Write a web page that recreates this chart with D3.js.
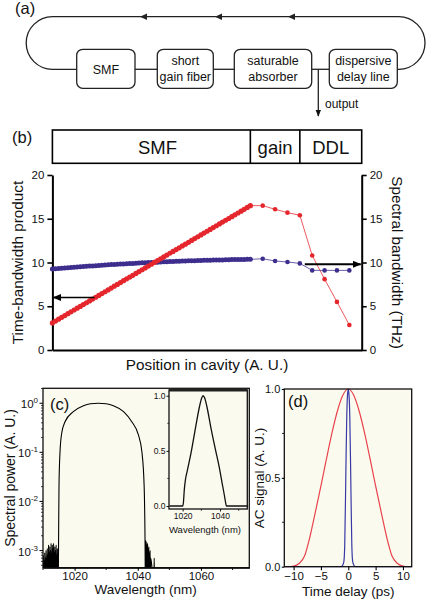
<!DOCTYPE html>
<html><head><meta charset="utf-8">
<script src="https://cdn.jsdelivr.net/npm/d3@7"></script>
<style>body{margin:0;background:#fff}svg{display:block}</style>
</head><body>
<svg id="fig" width="426" height="601"></svg>
<script>
// ---------------- DATA ----------------
// (a) cavity schematic
const cavityBoxes = [["SMF"], ["short", "gain fiber"], ["saturable", "absorber"], ["dispersive", "delay line"]];
const outputLabel = "output";
// (b) position in cavity
const segmentLabels = ["SMF", "gain", "DDL"];
const segmentBounds = [0, 16, 20, 25];
const densePosStep = 0.25;
const tbpDense = [3.10,3.31,3.52,3.73,3.94,4.15,4.36,4.57,4.78,4.98,5.19,5.40,5.61,5.82,6.03,6.24,6.45,6.66,6.87,7.08,7.29,7.50,7.71,7.92,8.13,8.33,8.54,8.75,8.96,9.17,9.38,9.59,9.80,10.01,10.22,10.43,10.64,10.85,11.06,11.27,11.48,11.68,11.89,12.10,12.31,12.52,12.73,12.94,13.15,13.36,13.57,13.78,13.99,14.20,14.41,14.62,14.83,15.03,15.24,15.45,15.66,15.87,16.08,16.29,16.50];
const bwDense = [9.25,9.28,9.31,9.34,9.37,9.40,9.42,9.45,9.48,9.51,9.53,9.56,9.59,9.61,9.64,9.66,9.69,9.71,9.73,9.76,9.78,9.80,9.82,9.84,9.86,9.88,9.90,9.92,9.94,9.96,9.97,9.99,10.01,10.03,10.04,10.06,10.08,10.09,10.11,10.12,10.14,10.15,10.16,10.18,10.19,10.20,10.21,10.23,10.24,10.25,10.26,10.27,10.28,10.29,10.30,10.30,10.31,10.32,10.33,10.33,10.34,10.35,10.35,10.36,10.36];
const sparsePos = [17, 18, 19, 20, 21, 22, 23, 24];
const tbpSparse = [16.5, 16.08, 15.7, 15.4, 10.8, 8.1, 5.5, 2.86];
const bwSparse = [10.43, 10.17, 10.06, 9.9, 9.1, 9.1, 9.1, 9.1];
const bTicks = [0, 5, 10, 15, 20];
// (c) spectrum
const noiseLeftWl = [1010.05,1010.15,1010.25,1010.35,1010.45,1010.55,1010.65,1010.75,1010.85,1010.95,1011.05,1011.15,1011.25,1011.35,1011.45,1011.55,1011.65,1011.75,1011.85,1011.95,1012.05,1012.15,1012.25,1012.35,1012.45,1012.55,1012.65,1012.75,1012.85,1012.95,1013.05,1013.15,1013.25,1013.35,1013.45,1013.55,1013.65,1013.75,1013.85,1013.95,1014.05,1014.15,1014.25,1014.35,1014.45,1014.55,1014.65,1014.75];
const noiseLeftP = [3e-4,8e-4,3e-4,6e-4,2e-4,9e-4,3e-4,7e-4,2e-4,1.0e-3,3e-4,6e-4,2e-4,1.1e-3,3e-4,8e-4,2e-4,1.3e-3,4e-4,9e-4,2e-4,1.2e-3,3e-4,1.0e-3,2e-4,1.4e-3,3e-4,8e-4,2e-4,1.3e-3,4e-4,1.1e-3,2e-4,1.4e-3,3e-4,9e-4,2e-4,1.2e-3,3e-4,1.0e-3,2e-4,1.3e-3,4e-4,8e-4,2e-4,1.1e-3,3e-4,7e-4];
const domeWl = [1014.85,1014.95,1015.07,1015.39,1015.92,1016.97,1019.6,1022.8,1025.0,1027.5,1030.0,1032.3,1035.5,1038.1,1040.2,1041.3,1042.0,1042.3];
const domeP = [3e-4,2.5e-3,0.022,0.103,0.245,0.42,0.675,0.89,0.975,1.0,0.975,0.89,0.675,0.42,0.226,0.103,0.022,1.5e-3];
const noiseRightWl = [1042.4,1042.5,1042.6,1042.7,1042.8,1042.9,1043.0,1043.1,1043.2,1043.3,1043.4,1043.5,1043.6,1043.7,1043.8,1043.9,1044.0,1044.1,1045.1,1045.2,1045.3,1075];
const noiseRightP = [2e-4,1.6e-3,3e-4,1.5e-3,2e-4,1.3e-3,3e-4,1.4e-3,2e-4,1.1e-3,3e-4,1.2e-3,2e-4,9e-4,3e-4,1.0e-3,2e-4,7e-4,2e-4,7e-4,2e-4,2e-4];
const cXMajor = [1020, 1040, 1060];
const cXMinor = [1010, 1030, 1050, 1070];
const cYMajor = [1, 0.1, 0.01, 0.001];
const cYExp = ["0", "-1", "-2", "-3"];
// (c) inset, linear
const insetWl = [1013,1020,1020.4,1020.9,1021.5,1022.5,1024.7,1027,1029,1030.2,1030.9,1031.8,1033,1035,1037.7,1039.5,1041,1042.3,1043,1043.4,1055];
const insetP = [0,0,0.03,0.15,0.24,0.32,0.5,0.72,0.9,0.98,1.0,0.98,0.9,0.72,0.5,0.36,0.22,0.1,0.03,0,0];
const insetXTicks = [1020, 1040];
const insetYTicks = [0, 0.5, 1];
// (d) autocorrelation
const acT = [-11.7,-11,-10,-9,-8,-7,-6,-5,-4,-3,-2,-1,0,1,2,3,4,5,6,7,8,9,10,11,11.6];
const acRed = [0,0,0.003,0.018,0.06,0.17,0.31,0.455,0.605,0.75,0.875,0.965,1.0,0.965,0.875,0.75,0.605,0.455,0.31,0.17,0.06,0.018,0.003,0,0];
const acBlueT = [-11.7,-1.3,-1.0,-0.8,-0.65,-0.5,-0.4,-0.28,-0.15,0,0.15,0.28,0.4,0.5,0.65,0.8,1.0,1.3,11.6];
const acBlue = [0,0,0.01,0.03,0.12,0.4,0.62,0.84,0.96,1.0,0.96,0.84,0.62,0.4,0.12,0.03,0.01,0,0];
const dXTicks = [-10, -5, 0, 5, 10];
const dYMajor = [0, 0.5, 1];
const dYMinor = [0.25, 0.75];

// ---------------- STYLE ----------------
const FONT = '"Liberation Sans", Arial, Helvetica, sans-serif';
const RED = "#e5262d", BLUE = "#3d2e8e", CREAM = "#fbfaee";
const svg = d3.select("#fig");
const defs = svg.append("defs");
defs.append("marker").attr("id", "ah").attr("viewBox", "0 0 10 8").attr("refX", 9).attr("refY", 4)
  .attr("markerWidth", 7).attr("markerHeight", 6).attr("markerUnits", "userSpaceOnUse").attr("orient", "auto")
  .append("path").attr("d", "M0,0 L10,4 L0,8 z").attr("fill", "#111");
defs.append("marker").attr("id", "ahb").attr("viewBox", "0 0 10 8").attr("refX", 9).attr("refY", 4)
  .attr("markerWidth", 9).attr("markerHeight", 7).attr("markerUnits", "userSpaceOnUse").attr("orient", "auto")
  .append("path").attr("d", "M0,0 L10,4 L0,8 z").attr("fill", "#000");

function label(g, x, y, s, size, anchor = "middle", rot = 0) {
  const t = g.append("text").attr("x", x).attr("y", y).attr("font-family", FONT).attr("font-size", size)
    .attr("text-anchor", anchor).attr("fill", "#111").text(s);
  if (rot) t.attr("transform", `rotate(${rot},${x},${y})`);
  return t;
}
function styleAxis(g, fs, dw, tw) {
  g.attr("font-family", FONT).attr("font-size", fs);
  g.select(".domain").attr("stroke-width", dw).attr("stroke", "#000");
  g.selectAll(".tick line").attr("stroke-width", tw).attr("stroke", "#000");
  g.selectAll(".tick text").attr("fill", "#111");
}

// ---------------- (a) ----------------
const ga = svg.append("g");
label(ga, 15, 14, "(a)", 16.5, "start");
const aTop = 16.7, aMid = 69.3, aR = (aMid - aTop) / 2;
const boxX = [[76.7, 135], [157.3, 213.3], [234.3, 311.7], [329.3, 397.3]];
const lx = 52.5, rx = 398.7;
ga.append("path").attr("fill", "none").attr("stroke", "#222").attr("stroke-width", 1.3)
  .attr("d", `M${boxX[0][0]},${aMid} H${lx} A${aR},${aR} 0 0 1 ${lx},${aTop} H${rx} A${aR},${aR} 0 0 1 ${rx},${aMid} H${boxX[3][1]}`);
for (let i = 0; i < 3; i++)
  ga.append("line").attr("x1", boxX[i][1]).attr("x2", boxX[i + 1][0]).attr("y1", aMid).attr("y2", aMid)
    .attr("stroke", "#222").attr("stroke-width", 1.3);
[140, 215, 288].forEach(x => ga.append("path").attr("d", `M${x},${aTop} l7,-3.2 v6.4 z`).attr("fill", "#222"));
cavityBoxes.forEach((lines, i) => {
  const [x0, x1] = boxX[i];
  ga.append("rect").attr("x", x0).attr("y", 49.3).attr("width", x1 - x0).attr("height", 39).attr("rx", 6)
    .attr("fill", "#fff").attr("stroke", "#222").attr("stroke-width", 1.3);
  const cx = (x0 + x1) / 2;
  if (lines.length === 1) label(ga, cx, 73.5, lines[0], 12.5);
  else { label(ga, cx, 65, lines[0], 12.5); label(ga, cx, 81, lines[1], 12.5); }
});
ga.append("line").attr("x1", 318.3).attr("x2", 318.3).attr("y1", aMid).attr("y2", 116)
  .attr("stroke", "#222").attr("stroke-width", 1.3).attr("marker-end", "url(#ah)");
label(ga, 325, 108, outputLabel, 12, "start");

// ---------------- (b) ----------------
const gb = svg.append("g");
label(gb, 12, 143, "(b)", 16.5, "start");
const xb = d3.scaleLinear([0, 25], [52.4, 361.7]);
const yL = d3.scaleLinear([0, 20], [350, 175]);
const yR = d3.scaleLinear([0, 20], [350, 175]);
gb.append("rect").attr("x", xb(0)).attr("y", 130).attr("width", xb(25) - xb(0)).attr("height", 33.3)
  .attr("fill", "#fff").attr("stroke", "#000").attr("stroke-width", 1.6);
[segmentBounds[1], segmentBounds[2]].forEach(p => gb.append("line").attr("x1", xb(p)).attr("x2", xb(p))
  .attr("y1", 130).attr("y2", 163.3).attr("stroke", "#000").attr("stroke-width", 1.6));
const segCenters = [8.5, 18, 22.5];
segmentLabels.forEach((s, i) => label(gb, xb(segCenters[i]), 153.5, s, 18.5));
const axL = gb.append("g").attr("transform", `translate(${xb(0)},0)`)
  .call(d3.axisLeft(yL).tickValues(bTicks).tickSize(5).tickSizeOuter(0).tickPadding(3));
styleAxis(axL, 11.5, 2, 1.6);
const axR = gb.append("g").attr("transform", `translate(${xb(25)},0)`)
  .call(d3.axisRight(yR).tickValues(bTicks).tickSize(5).tickSizeOuter(0).tickPadding(3));
styleAxis(axR, 11.5, 2, 1.6);
const axB = gb.append("g").attr("transform", `translate(0,${yL(0)})`)
  .call(d3.axisBottom(xb).tickValues([]).tickSizeOuter(0));
styleAxis(axB, 11, 2, 1);
label(gb, 22.5, (yL(0) + yL(20)) / 2, "Time-bandwidth product", 15.3, "middle", -90);
label(gb, 392, (yL(0) + yL(20)) / 2, "Spectral bandwidth (THz)", 15.3, "middle", 90);
label(gb, (xb(0) + xb(25)) / 2, 369.5, "Position in cavity (A. U.)", 15.3);
const lineB = (ys) => d3.line().x(d => xb(d[0])).y(d => ys(d[1]));
const redSp = [[(tbpDense.length - 1) * densePosStep, tbpDense[tbpDense.length - 1]], ...sparsePos.map((p, i) => [p, tbpSparse[i]])];
const blueSp = [[(bwDense.length - 1) * densePosStep, bwDense[bwDense.length - 1]], ...sparsePos.map((p, i) => [p, bwSparse[i]])];
gb.append("path").attr("d", lineB(yL)(redSp)).attr("fill", "none").attr("stroke", RED).attr("stroke-width", 0.9).attr("opacity", 0.85);
gb.append("path").attr("d", lineB(yR)(blueSp)).attr("fill", "none").attr("stroke", BLUE).attr("stroke-width", 0.9).attr("opacity", 0.85);
gb.append("g").selectAll("circle").data(bwDense).join("circle")
  .attr("cx", (d, i) => xb(i * densePosStep)).attr("cy", d => yR(d)).attr("r", 2.5).attr("fill", BLUE);
gb.append("g").selectAll("circle").data(tbpDense).join("circle")
  .attr("cx", (d, i) => xb(i * densePosStep)).attr("cy", d => yL(d)).attr("r", 2.6).attr("fill", RED);
gb.append("g").selectAll("circle").data(bwSparse).join("circle")
  .attr("cx", (d, i) => xb(sparsePos[i])).attr("cy", d => yR(d)).attr("r", 2.3).attr("fill", BLUE);
gb.append("g").selectAll("circle").data(tbpSparse).join("circle")
  .attr("cx", (d, i) => xb(sparsePos[i])).attr("cy", d => yL(d)).attr("r", 2.3).attr("fill", RED);
gb.append("line").attr("x1", xb(3.4)).attr("x2", xb(0) + 1).attr("y1", yL(6)).attr("y2", yL(6))
  .attr("stroke", "#000").attr("stroke-width", 1.6).attr("marker-end", "url(#ahb)");
gb.append("line").attr("x1", xb(20.4)).attr("x2", xb(25) - 1).attr("y1", yR(9.8)).attr("y2", yR(9.8))
  .attr("stroke", "#000").attr("stroke-width", 2).attr("marker-end", "url(#ahb)");

// ---------------- (c) ----------------
const gc = svg.append("g");
const xc = d3.scaleLinear([1010, 1075.3], [43, 249.3]);
const yc = d3.scaleLog([Math.pow(10, -3.35), Math.pow(10, 0.305)], [567.7, 388.3]);
gc.append("rect").attr("x", 43).attr("y", 388.3).attr("width", 206.3).attr("height", 179.4).attr("fill", CREAM);
defs.append("clipPath").attr("id", "clipc").append("rect").attr("x", 43).attr("y", 388.3).attr("width", 206.3).attr("height", 179.4);
const specData = [...noiseLeftWl.map((w, i) => [w, noiseLeftP[i]]), ...domeWl.map((w, i) => [w, domeP[i]]), ...noiseRightWl.map((w, i) => [w, noiseRightP[i]])];
gc.append("path").attr("clip-path", "url(#clipc)")
  .attr("d", d3.line().x(d => xc(d[0])).y(d => yc(d[1])).curve(d3.curveMonotoneX)(specData))
  .attr("fill", "none").attr("stroke", "#000").attr("stroke-width", 1.1);
gc.append("rect").attr("x", 43).attr("y", 388.3).attr("width", 206.3).attr("height", 179.4)
  .attr("fill", "none").attr("stroke", "#111").attr("stroke-width", 1.3);
const cxAx = gc.append("g").attr("transform", "translate(0,567.7)")
  .call(d3.axisBottom(xc).tickValues(cXMajor).tickSize(3).tickSizeOuter(0).tickFormat(d3.format("d")).tickPadding(1.5));
styleAxis(cxAx, 11.5, 1.3, 1.1);
gc.append("g").selectAll("line").data(cXMinor).join("line").attr("x1", d => xc(d)).attr("x2", d => xc(d))
  .attr("y1", 567.7).attr("y2", 570).attr("stroke", "#111");
const minor = yc.ticks().filter(v => !cYMajor.some(m => Math.abs(m - v) < 1e-9));
gc.append("g").selectAll("line").data(minor).join("line").attr("x1", 41).attr("x2", 43)
  .attr("y1", d => yc(d)).attr("y2", d => yc(d)).attr("stroke", "#111").attr("stroke-width", 0.8);
gc.append("g").selectAll("line").data(cYMajor).join("line").attr("x1", 39.5).attr("x2", 43)
  .attr("y1", d => yc(d)).attr("y2", d => yc(d)).attr("stroke", "#111").attr("stroke-width", 1.1);
cYMajor.forEach((v, i) => {
  const t = gc.append("text").attr("x", 38).attr("y", yc(v) + 5).attr("text-anchor", "end")
    .attr("font-family", FONT).attr("font-size", 11.5).attr("fill", "#111");
  t.append("tspan").text("10");
  t.append("tspan").attr("font-size", 8).attr("dy", -5).text(cYExp[i]);
});
label(gc, 14.5, 478, "Spectral power (A. U.)", 14, "middle", -90);
label(gc, xc(1042.5), 594, "Wavelength (nm)", 13.5);
label(gc, 50, 410, "(c)", 16.5, "start");
// inset
const xi = d3.scaleLinear([1012.7, 1054.6], [169, 247.3]);
const yi = d3.scaleLinear([-0.027, 1.052], [509, 390]);
gc.append("rect").attr("x", 169).attr("y", 390).attr("width", 78.3).attr("height", 119).attr("fill", CREAM)
  .attr("stroke", "#111").attr("stroke-width", 1.3);
gc.append("line").attr("x1", 169).attr("x2", 247.3).attr("y1", 390).attr("y2", 390).attr("stroke", "#222").attr("stroke-width", 3);
gc.append("path").attr("d", d3.line().x(d => xi(d[0])).y(d => yi(d[1])).curve(d3.curveMonotoneX)(insetWl.map((w, i) => [w, insetP[i]])))
  .attr("fill", "none").attr("stroke", "#111").attr("stroke-width", 1.3);
const iy = gc.append("g").attr("transform", "translate(169,0)")
  .call(d3.axisLeft(yi).tickValues(insetYTicks).tickSize(2.5).tickSizeOuter(0).tickFormat(d3.format(".1f")).tickPadding(1));
styleAxis(iy, 8.5, 0, 0.9);
gc.append("g").selectAll("line").data([0.25, 0.75]).join("line").attr("x1", 167.3).attr("x2", 169)
  .attr("y1", d => yi(d)).attr("y2", d => yi(d)).attr("stroke", "#111").attr("stroke-width", 0.8);
const ix = gc.append("g").attr("transform", "translate(0,509)")
  .call(d3.axisBottom(xi).tickValues(insetXTicks).tickSize(2.5).tickSizeOuter(0).tickFormat(d3.format("d")).tickPadding(1.5));
styleAxis(ix, 8.5, 0, 0.9);
gc.append("g").selectAll("line").data([1030, 1050]).join("line").attr("x1", d => xi(d)).attr("x2", d => xi(d))
  .attr("y1", 509).attr("y2", 510.8).attr("stroke", "#111").attr("stroke-width", 0.8);
label(gc, 205, 532.5, "Wavelength (nm)", 9.5);

// ---------------- (d) ----------------
const gd = svg.append("g");
const xd = d3.scaleLinear([-11.7, 11.6], [284.3, 411.7]);
const yd = d3.scaleLinear([0, 1], [566.7, 389]);
gd.append("rect").attr("x", 284.3).attr("y", 389).attr("width", 127.4).attr("height", 177.7).attr("fill", CREAM);
defs.append("clipPath").attr("id", "clipd").append("rect").attr("x", 284.3).attr("y", 388).attr("width", 127.4).attr("height", 179.5);
const ln = d3.line().x(d => xd(d[0])).y(d => yd(d[1])).curve(d3.curveMonotoneX);
gd.append("path").attr("clip-path", "url(#clipd)").attr("d", ln(acT.map((t, i) => [t, acRed[i]])))
  .attr("fill", "none").attr("stroke", "#e8434c").attr("stroke-width", 1.2);
gd.append("path").attr("clip-path", "url(#clipd)").attr("d", ln(acBlueT.map((t, i) => [t, acBlue[i]])))
  .attr("fill", "none").attr("stroke", "#3838a6").attr("stroke-width", 1.2);
gd.append("rect").attr("x", 284.3).attr("y", 389).attr("width", 127.4).attr("height", 177.7)
  .attr("fill", "none").attr("stroke", "#111").attr("stroke-width", 1.3);
const dxA = gd.append("g").attr("transform", "translate(0,566.7)")
  .call(d3.axisBottom(xd).tickValues(dXTicks).tickSize(3.5).tickSizeOuter(0).tickFormat(d3.format("d")).tickPadding(1.5));
styleAxis(dxA, 11.5, 0, 1.1);
const dyA = gd.append("g").attr("transform", "translate(284.3,0)")
  .call(d3.axisLeft(yd).tickValues(dYMajor).tickSize(2.5).tickSizeOuter(0).tickFormat(d3.format(".1f")).tickPadding(1.5));
styleAxis(dyA, 11, 0, 1.1);
gd.append("g").selectAll("line").data(dYMinor).join("line").attr("x1", 282).attr("x2", 284.3)
  .attr("y1", d => yd(d)).attr("y2", d => yd(d)).attr("stroke", "#111").attr("stroke-width", 0.9);
label(gd, 263.5, 478, "AC signal (A. U.)", 13.5, "middle", -90);
label(gd, xd(0), 596, "Time delay (ps)", 13.5);
label(gd, 288, 407, "(d)", 16.5, "start");
</script>
</body></html>
